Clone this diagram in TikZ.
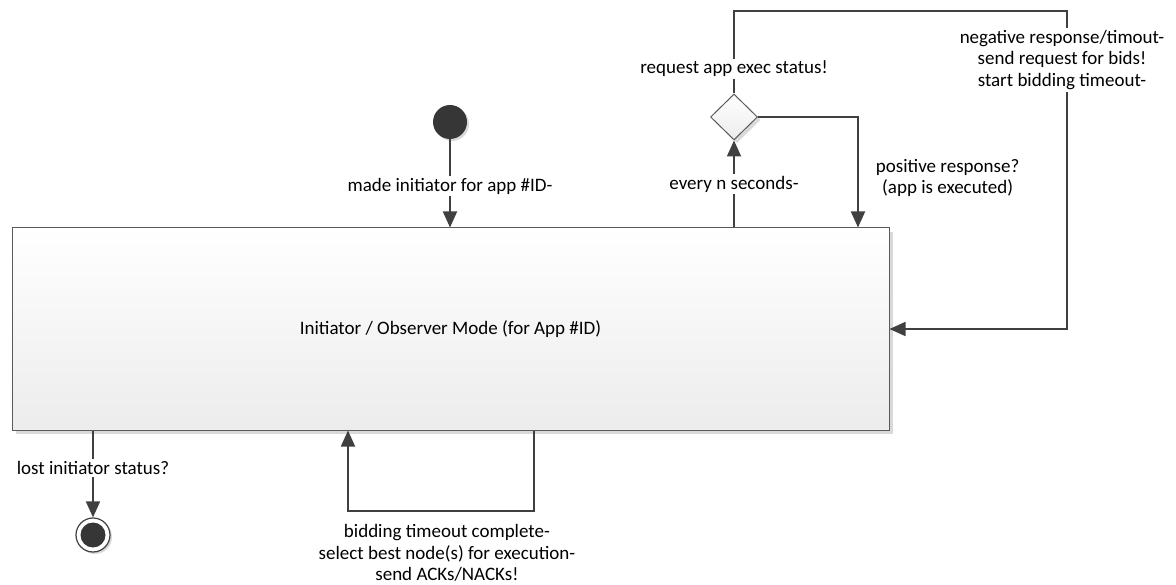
\documentclass[tikz,border=0pt]{standalone}
\usepackage{fontspec}
\setmainfont{Carlito}
\usetikzlibrary{arrows.meta,shapes.geometric,shadows}

\definecolor{ink}{HTML}{404040}
\definecolor{edge}{HTML}{5A5A5A}
\definecolor{dot}{HTML}{363636}
\definecolor{shade}{HTML}{D9D9D9}
\definecolor{boxbot}{HTML}{ECECEC}

\begin{document}
\begin{tikzpicture}[x=1pt,y=-1pt,
  font=\fontsize{19}{21.5}\selectfont,
  wire/.style={draw=ink, line width=1.8pt},
  flow/.style={wire, -{Triangle[length=16pt,width=14pt]}},
  lbl/.style={fill=white, inner sep=2pt, align=center, text=black},
  plain/.style={inner sep=2pt, align=center, text=black},
  soft shadow/.style={drop shadow={shadow xshift=#1, shadow yshift=-#1, fill=shade, opacity=1}},
  statebox/.style={rectangle, draw=edge, line width=1pt, top color=white, bottom color=boxbot,
    minimum width=877pt, minimum height=202pt, inner sep=0pt, soft shadow=4pt},
  startdot/.style={circle, fill=dot, minimum size=34pt, inner sep=0pt, soft shadow=2pt},
  enddot/.style={circle, draw=ink, line width=1.2pt, fill=white, minimum size=34pt, inner sep=0pt,
    soft shadow=2pt,
    path picture={\fill[dot] (path picture bounding box.center) circle (12.5pt);}},
  choice/.style={diamond, draw=edge, line width=1pt, top color=white, bottom color=boxbot,
    minimum width=47pt, minimum height=46pt, inner sep=0pt, soft shadow=3pt},
]
\useasboundingbox (0,0) rectangle (1176,585);

% states
\node[statebox] (mode) at (450.5,329) {Initiator / Observer Mode (for App \#ID)};
\node[startdot] (init) at (450,122) {};
\node[choice] (chk) at (734,117) {};
\node[enddot] (fin) at (93,535) {};

% routing points
\coordinate (top) at (1067,11);
\coordinate (pos) at (858,117);
\coordinate (loopR) at (534,511);
\coordinate (loopL) at (348,511);

% start -> mode
\draw[flow] (init) -- node[lbl, pos=0.53] {made initiator for app \#ID-} (init |- mode.north);

% periodic status poll
\draw[flow] (mode.north -| chk) -- node[lbl] {every n seconds-} (chk.south);

% positive answer back into the mode
\draw[flow] (chk.east) -- (pos) -- node[plain, anchor=west, pos=0.55, xshift=15pt]
  {positive response?\\(app is executed)} (pos |- mode.north);

% negative answer / timeout: request bids
\draw[flow] (chk.north) -- node[lbl, pos=0.3] {request app exec status!} (chk.north |- top)
  -- (top) -- node[lbl, pos=0.154, xshift=-5pt]
  {negative response/timout-\\send request for bids!\\start bidding timeout-} (top |- mode.east)
  -- (mode.east);

% bidding round self-loop
\draw[flow] (mode.south -| loopR) -- (loopR) -- node[plain, pos=0.468, yshift=-42pt]
  {bidding timeout complete-\\select best node(s) for execution-\\send ACKs/NACKs!} (loopL)
  -- (loopL |- mode.south);

% leaving the mode
\draw[flow] (mode.south -| fin) -- node[lbl, pos=0.43] {lost initiator status?} (fin.north);
\end{tikzpicture}
\end{document}
